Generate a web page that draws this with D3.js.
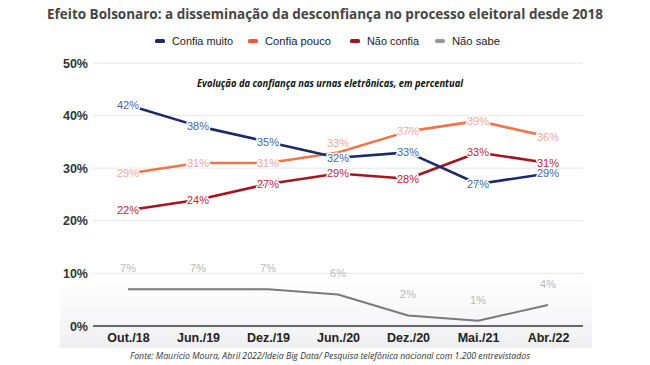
<!DOCTYPE html>
<html>
<head>
<meta charset="utf-8">
<script src="https://cdn.jsdelivr.net/npm/d3@7"></script>
<style>
  html, body { margin: 0; padding: 0; background: #fff; }
  svg { display: block; }
</style>
</head>
<body>
<svg id="chart" width="650" height="365"></svg>
<script>
// ---- data ----
const categories = ["Out./18", "Jun./19", "Dez./19", "Jun./20", "Dez./20", "Mai./21", "Abr./22"];
const seriesNames = ["Confia muito", "Confia pouco", "Não confia", "Não sabe"];
const confiaMuito = [42, 38, 35, 32, 33, 27, 29];
const confiaPouco = [29, 31, 31, 33, 37, 39, 36];
const naoConfia   = [22, 24, 27, 29, 28, 33, 31];
const naoSabe     = [7, 7, 7, 6, 2, 1, 4];
const yTicks = [0, 10, 20, 30, 40, 50];

const titleText = "Efeito Bolsonaro: a disseminação da desconfiança no processo eleitoral desde 2018";
const subtitleText = "Evolução da confiança nas urnas eletrônicas, em percentual";
const sourceText = "Fonte: Mauricio Moura, Abril 2022/Ideia Big Data/ Pesquisa telefônica nacional com 1.200 entrevistados";

// ---- styles ----
const styles = [
  { line: "#1c2a6a", label: "#4a64aa", width: 2.6, labelDy: 0 },
  { line: "#f0764a", label: "#f2a894", width: 2.6, labelDy: 0 },
  { line: "#a5141f", label: "#c41f2b", width: 2.6, labelDy: 0 },
  { line: "#7a7a7a", label: "#b8b8b8", width: 2.0, labelDy: -21 }
];
const legendColors = ["#1c2a6a", "#f5553a", "#a5141f", "#9a9a9a"];

const svg = d3.select("#chart");

const x = d3.scalePoint().domain(categories).range([128, 548]);
const y = d3.scaleLinear().domain([0, 50]).range([326, 63]);

// bottom faint shading
const defs = svg.append("defs");
const grad = defs.append("linearGradient").attr("id", "shade").attr("x1", 0).attr("y1", 0).attr("x2", 0).attr("y2", 1);
grad.append("stop").attr("offset", "0%").attr("stop-color", "#f3f1f4").attr("stop-opacity", 0);
grad.append("stop").attr("offset", "100%").attr("stop-color", "#efeef1").attr("stop-opacity", 1);
svg.append("rect").attr("x", 60).attr("y", 280).attr("width", 532).attr("height", 68).attr("fill", "url(#shade)");

// title
svg.append("text").attr("x", 47).attr("y", 18.5)
  .attr("font-family", "Open Sans, sans-serif").attr("font-weight", 700)
  .attr("font-size", 14.5).attr("fill", "#454545")
  .attr("textLength", 556).attr("lengthAdjust", "spacingAndGlyphs")
  .text(titleText);

// legend
const legendX = [155, 248, 350, 435];
const legendTextW = [61, 66, 52, 48];
const lg = svg.append("g");
seriesNames.forEach((n, i) => {
  lg.append("rect").attr("x", legendX[i]).attr("y", 39).attr("width", 10).attr("height", 4)
    .attr("rx", 1.5).attr("fill", legendColors[i]);
  lg.append("text").attr("x", legendX[i] + 17).attr("y", 45)
    .attr("font-family", "Liberation Sans, Arial, sans-serif").attr("font-size", 11)
    .attr("fill", "#222").attr("textLength", legendTextW[i]).attr("lengthAdjust", "spacingAndGlyphs")
    .text(n);
});

// gridlines
svg.append("g").selectAll("line").data(yTicks.filter(d => d > 0)).join("line")
  .attr("x1", 93).attr("x2", 583).attr("y1", d => y(d)).attr("y2", d => y(d))
  .attr("stroke", "#e6e6e6").attr("stroke-width", 1);

// y axis labels
const yAxis = d3.axisLeft(y).tickValues(yTicks).tickFormat(d => d + "%").tickSize(0).tickPadding(0);
const ya = svg.append("g").attr("transform", "translate(88,0)").call(yAxis);
ya.select(".domain").remove();
ya.selectAll("text").attr("font-family", "Liberation Sans, Arial, sans-serif")
  .attr("font-size", 12.5).attr("font-weight", 700).attr("fill", "#333");

// x axis
const xAxis = d3.axisBottom(x).tickSize(0).tickPadding(7);
const xa = svg.append("g").attr("transform", `translate(0,${y(0)})`).call(xAxis);
xa.select(".domain").remove();
xa.selectAll("text").attr("font-family", "Liberation Sans, Arial, sans-serif")
  .attr("font-size", 12.5).attr("font-weight", 700).attr("fill", "#222");
svg.append("line").attr("x1", 93).attr("x2", 583).attr("y1", y(0)).attr("y2", y(0))
  .attr("stroke", "#3a3a3a").attr("stroke-width", 1.5);

// subtitle
svg.append("text").attr("x", 197).attr("y", 87)
  .attr("font-family", "Open Sans, sans-serif").attr("font-style", "italic").attr("font-weight", 700)
  .attr("font-size", 10).attr("fill", "#111")
  .attr("textLength", 266).attr("lengthAdjust", "spacingAndGlyphs")
  .text(subtitleText);

// lines
const allSeries = [confiaMuito, confiaPouco, naoConfia, naoSabe];
const lineGen = d3.line().x((d, i) => x(categories[i])).y(d => y(d));
const drawOrder = [3, 1, 2, 0];
drawOrder.forEach(si => {
  svg.append("path").datum(allSeries[si]).attr("d", lineGen)
    .attr("fill", "none").attr("stroke", styles[si].line).attr("stroke-width", styles[si].width)
    .attr("stroke-linejoin", "round");
});

// labels (collision nudge: if two series labels at same category are too close, lift the upper one)
const labelsG = svg.append("g");
drawOrder.forEach(si => {
  allSeries[si].forEach((v, i) => {
    let dy = styles[si].labelDy;
    if (si === 1) {
      const other = confiaMuito[i];
      if (Math.abs(v - other) <= 1 && v > other) dy = -9;
    }
    const t = labelsG.append("text")
      .attr("x", x(categories[i])).attr("y", y(v) + dy).attr("dy", "0.36em")
      .attr("text-anchor", "middle")
      .attr("font-family", "Liberation Sans, Arial, sans-serif").attr("font-size", 11)
      .attr("fill", styles[si].label)
      .text(v + "%");
    if (si !== 3) {
      t.attr("stroke", "#fff").attr("stroke-width", 3).attr("paint-order", "stroke")
       .attr("stroke-linejoin", "round");
    }
  });
});

// source
svg.append("text").attr("x", 130).attr("y", 359)
  .attr("font-family", "Open Sans, sans-serif").attr("font-style", "italic")
  .attr("font-size", 8.5).attr("fill", "#333")
  .attr("textLength", 400).attr("lengthAdjust", "spacingAndGlyphs")
  .text(sourceText);
</script>
</body>
</html>
